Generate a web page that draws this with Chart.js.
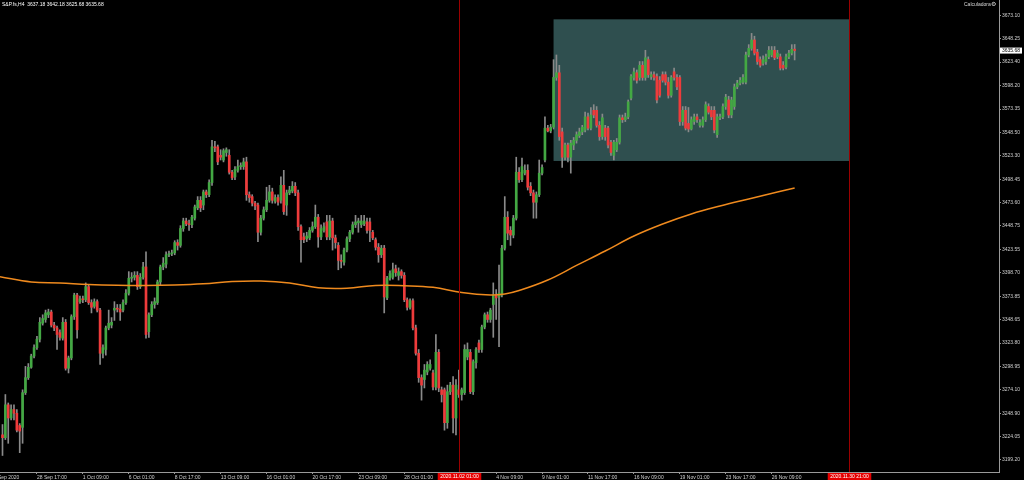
<!DOCTYPE html>
<html lang="en">
<head>
<meta charset="UTF-8" />
<title>S&amp;P.fs H4</title>
<script src="https://cdn.jsdelivr.net/npm/chart.js"></script>
<style>
  html, body { margin: 0; padding: 0; background: #000; }
  canvas { display: block; background: #000; }
</style>
</head>
<body>
<canvas id="priceChart" width="1024" height="480"></canvas>
<script>
// H4 candles, index 0 = first bar on screen
const symbolName = 'S&P.fs,H4';

const opens = [
  3226, 3223, 3258, 3244, 3253, 3249, 3236, 3234, 3271, 3287,
  3298, 3310, 3319, 3328, 3345, 3349, 3354, 3357, 3343, 3340,
  3335, 3329, 3346, 3297, 3308, 3352, 3375, 3368, 3371, 3370,
  3384, 3367, 3363, 3368, 3359, 3313, 3317, 3340, 3343, 3359,
  3361, 3360, 3359, 3367, 3377, 3393, 3394, 3396, 3384, 3394,
  3405, 3336, 3354, 3365, 3367, 3389, 3405, 3408, 3418, 3419,
  3420, 3431, 3428, 3446, 3454, 3451, 3450, 3457, 3468, 3476,
  3471, 3485, 3482, 3495, 3533, 3533, 3524, 3519, 3527, 3524,
  3506, 3501, 3508, 3512, 3512, 3517, 3482, 3480, 3473, 3471,
  3442, 3457, 3466, 3476, 3485, 3475, 3479, 3476, 3492, 3471,
  3484, 3486, 3491, 3484, 3448, 3437, 3435, 3436, 3444, 3448,
  3458, 3437, 3444, 3453, 3437, 3454, 3436, 3428, 3412, 3410,
  3423, 3435, 3442, 3450, 3452, 3450, 3451, 3453, 3453, 3442,
  3434, 3426, 3418, 3425, 3372, 3393, 3394, 3403, 3396, 3400,
  3396, 3370, 3362, 3369, 3340, 3313, 3287, 3285, 3293, 3297,
  3292, 3277, 3314, 3274, 3274, 3239, 3272, 3279, 3244, 3274,
  3269, 3271, 3309, 3314, 3272, 3303, 3324, 3317, 3341, 3354,
  3349, 3365, 3375, 3373, 3375, 3425, 3458, 3444, 3439, 3457,
  3506, 3498, 3505, 3508, 3491, 3484, 3474, 3482, 3505, 3519,
  3553, 3550, 3554, 3607, 3612, 3549, 3522, 3535, 3522, 3535,
  3540, 3545, 3549, 3551, 3565, 3553, 3572, 3572, 3556, 3544,
  3553, 3553, 3538, 3524, 3530, 3538, 3564, 3562, 3565, 3585,
  3607, 3612, 3607, 3620, 3607, 3626, 3608, 3610, 3608, 3604,
  3610, 3610, 3602, 3588, 3613, 3607, 3607, 3560, 3572, 3558,
  3552, 3560, 3565, 3556, 3556, 3562, 3576, 3572, 3572, 3546,
  3564, 3565, 3576, 3583, 3567, 3576, 3597, 3601, 3602, 3602,
  3631, 3638, 3647, 3634, 3626, 3622, 3624, 3629, 3631, 3636,
  3629, 3629, 3620, 3618, 3629, 3633, 3637.18
];

const highs = [
  3237, 3269, 3260, 3258, 3258, 3253, 3238, 3274, 3299, 3302,
  3312, 3322, 3331, 3351, 3354, 3359, 3360, 3359, 3346, 3342,
  3338, 3351, 3349, 3310, 3354, 3377, 3377, 3374, 3374, 3388,
  3386, 3370, 3371, 3370, 3361, 3322, 3342, 3359, 3351, 3368,
  3365, 3365, 3370, 3381, 3400, 3399, 3400, 3400, 3398, 3410,
  3421, 3356, 3368, 3372, 3391, 3407, 3415, 3421, 3422, 3423,
  3433, 3434, 3449, 3457, 3457, 3455, 3460, 3471, 3480, 3480,
  3487, 3487, 3498, 3540, 3539, 3535, 3530, 3531, 3532, 3530,
  3508, 3512, 3519, 3516, 3521, 3522, 3485, 3482, 3475, 3473,
  3460, 3469, 3490, 3492, 3489, 3482, 3482, 3501, 3508, 3487,
  3491, 3496, 3495, 3487, 3450, 3441, 3442, 3447, 3453, 3471,
  3461, 3450, 3452, 3460, 3460, 3457, 3439, 3431, 3418, 3425,
  3437, 3444, 3453, 3460, 3457, 3460, 3460, 3457, 3457, 3444,
  3436, 3430, 3428, 3428, 3395, 3401, 3409, 3407, 3404, 3402,
  3399, 3372, 3371, 3371, 3343, 3317, 3290, 3301, 3304, 3306,
  3295, 3333, 3317, 3277, 3276, 3279, 3282, 3288, 3285, 3295,
  3276, 3322, 3324, 3317, 3306, 3319, 3327, 3343, 3356, 3357,
  3361, 3388, 3381, 3407, 3428, 3480, 3464, 3448, 3460, 3522,
  3511, 3521, 3514, 3514, 3495, 3487, 3485, 3519, 3514, 3565,
  3556, 3557, 3626, 3631, 3620, 3553, 3537, 3537, 3540, 3543,
  3549, 3553, 3556, 3570, 3569, 3575, 3578, 3576, 3560, 3568,
  3556, 3555, 3540, 3540, 3542, 3567, 3567, 3569, 3583, 3610,
  3617, 3615, 3624, 3624, 3636, 3629, 3613, 3613, 3611, 3608,
  3613, 3613, 3607, 3609, 3617, 3610, 3609, 3576, 3576, 3575,
  3565, 3568, 3568, 3562, 3565, 3581, 3579, 3576, 3576, 3568,
  3568, 3579, 3589, 3587, 3586, 3600, 3604, 3607, 3610, 3634,
  3642, 3654, 3651, 3637, 3629, 3630, 3632, 3640, 3640, 3640,
  3636, 3632, 3624, 3632, 3636, 3642, 3642.18
];

const lows = [
  3204, 3221, 3217, 3242, 3242, 3229, 3207, 3217, 3269, 3285,
  3297, 3308, 3317, 3325, 3343, 3346, 3351, 3341, 3337, 3317,
  3327, 3327, 3295, 3292, 3306, 3349, 3329, 3366, 3367, 3368,
  3365, 3356, 3361, 3357, 3301, 3308, 3311, 3338, 3340, 3348,
  3357, 3348, 3357, 3365, 3375, 3389, 3391, 3381, 3382, 3392,
  3329, 3330, 3352, 3361, 3365, 3386, 3402, 3404, 3416, 3417,
  3418, 3423, 3426, 3443, 3449, 3444, 3447, 3455, 3466, 3464,
  3466, 3479, 3480, 3492, 3528, 3514, 3519, 3517, 3523, 3504,
  3498, 3498, 3506, 3509, 3509, 3476, 3474, 3470, 3466, 3432,
  3439, 3455, 3464, 3474, 3473, 3473, 3471, 3473, 3461, 3460,
  3482, 3484, 3481, 3444, 3410, 3431, 3432, 3434, 3442, 3446,
  3426, 3434, 3442, 3434, 3434, 3423, 3425, 3402, 3404, 3407,
  3421, 3432, 3440, 3447, 3442, 3447, 3449, 3441, 3432, 3434,
  3423, 3410, 3415, 3356, 3370, 3391, 3392, 3395, 3391, 3393,
  3368, 3359, 3360, 3338, 3311, 3282, 3263, 3276, 3290, 3295,
  3274, 3274, 3272, 3261, 3231, 3233, 3269, 3228, 3226, 3266,
  3263, 3269, 3306, 3270, 3269, 3297, 3314, 3314, 3339, 3346,
  3346, 3330, 3349, 3320, 3373, 3423, 3434, 3428, 3436, 3455,
  3495, 3496, 3503, 3487, 3481, 3457, 3457, 3480, 3503, 3517,
  3549, 3548, 3552, 3604, 3540, 3511, 3519, 3517, 3505, 3530,
  3537, 3543, 3546, 3549, 3551, 3551, 3564, 3554, 3540, 3541,
  3540, 3532, 3524, 3519, 3528, 3536, 3559, 3560, 3563, 3583,
  3604, 3601, 3604, 3604, 3604, 3607, 3605, 3604, 3580, 3586,
  3602, 3599, 3585, 3586, 3604, 3594, 3556, 3556, 3551, 3549,
  3551, 3557, 3559, 3554, 3554, 3560, 3568, 3562, 3548, 3543,
  3562, 3563, 3573, 3564, 3564, 3573, 3595, 3599, 3600, 3600,
  3629, 3636, 3631, 3621, 3618, 3620, 3621, 3627, 3629, 3626,
  3627, 3615, 3615, 3616, 3627, 3631, 3625.68
];

const closes = [
  3223, 3258, 3244, 3253, 3249, 3231, 3230, 3271, 3287, 3298,
  3310, 3319, 3328, 3346, 3350, 3356, 3357, 3343, 3340, 3333,
  3330, 3346, 3297, 3308, 3352, 3375, 3338, 3371, 3370, 3384,
  3367, 3362, 3368, 3359, 3313, 3319, 3340, 3345, 3346, 3361,
  3360, 3357, 3367, 3377, 3393, 3394, 3396, 3384, 3394, 3405,
  3333, 3354, 3365, 3368, 3389, 3405, 3409, 3418, 3419, 3420,
  3431, 3428, 3446, 3454, 3451, 3450, 3458, 3469, 3476, 3468,
  3485, 3482, 3495, 3533, 3532, 3517, 3522, 3529, 3530, 3506,
  3500, 3509, 3512, 3513, 3517, 3482, 3479, 3473, 3470, 3442,
  3457, 3466, 3476, 3485, 3476, 3479, 3474, 3492, 3464, 3484,
  3487, 3491, 3484, 3448, 3434, 3434, 3438, 3444, 3448, 3458,
  3437, 3446, 3448, 3437, 3454, 3436, 3431, 3412, 3411, 3423,
  3435, 3442, 3450, 3453, 3454, 3454, 3454, 3444, 3444, 3436,
  3426, 3418, 3425, 3373, 3393, 3398, 3402, 3399, 3400, 3396,
  3370, 3362, 3369, 3340, 3313, 3287, 3279, 3295, 3301, 3301,
  3277, 3314, 3276, 3269, 3239, 3272, 3279, 3244, 3279, 3269,
  3274, 3317, 3317, 3272, 3304, 3317, 3317, 3341, 3354, 3349,
  3359, 3375, 3372, 3377, 3425, 3458, 3441, 3439, 3457, 3506,
  3498, 3512, 3508, 3490, 3484, 3474, 3482, 3505, 3511, 3553,
  3550, 3554, 3607, 3612, 3544, 3522, 3535, 3522, 3537, 3540,
  3546, 3549, 3554, 3565, 3553, 3567, 3567, 3556, 3544, 3564,
  3544, 3535, 3527, 3538, 3538, 3564, 3562, 3565, 3581, 3608,
  3613, 3604, 3620, 3607, 3628, 3610, 3610, 3607, 3583, 3588,
  3604, 3602, 3588, 3607, 3607, 3597, 3560, 3572, 3553, 3552,
  3562, 3565, 3562, 3559, 3562, 3578, 3570, 3565, 3551, 3565,
  3565, 3576, 3586, 3567, 3583, 3597, 3601, 3604, 3607, 3631,
  3638, 3647, 3633, 3624, 3620, 3626, 3629, 3636, 3636, 3628,
  3633, 3617, 3617, 3629, 3633, 3637, 3635.68
];

// moving average, read every ~10 bars
const maIndex = [-1, 10, 20, 30, 40, 50, 60, 70, 80, 90, 100, 110, 120, 130, 140, 150,
  160, 170, 175, 180, 190, 200, 210, 220, 230, 240, 250, 260, 270, 276];
const maValues = [3394.6, 3389.0, 3387.9, 3386.3, 3385.5, 3385.3, 3385.8, 3387.1, 3389.5, 3390.0,
  3387.9, 3382.8, 3382.3, 3385.3, 3385.0, 3383.3, 3377.8, 3375.1, 3376.2, 3379.9,
  3391.1, 3406.6, 3422.0, 3438.0, 3450.8, 3461.5, 3470.0, 3477.5, 3484.9, 3489.2];

// time axis labels (bar index -> text)
const timeTickIndex = [-4, 12, 28, 44, 60, 76, 92, 108, 124, 140, 172, 188, 204, 220, 236, 252, 268];
const timeTickLabels = ['24 Sep 2020', '28 Sep 17:00', '1 Oct 09:00', '6 Oct 01:00', '8 Oct 17:00',
  '13 Oct 09:00', '16 Oct 01:00', '20 Oct 17:00', '23 Oct 09:00', '28 Oct 01:00', '4 Nov 09:00',
  '9 Nov 01:00', '11 Nov 17:00', '16 Nov 09:00', '19 Nov 01:00', '23 Nov 17:00', '26 Nov 09:00'];

const priceTicks = [3673.10, 3648.25, 3623.40, 3598.20, 3573.35, 3548.50, 3523.30, 3498.45,
  3473.60, 3448.75, 3423.55, 3398.70, 3373.85, 3348.65, 3323.80, 3298.95, 3274.10, 3248.90,
  3224.05, 3199.20];

// rectangle object and vertical lines
const boxFrom = 192, boxTo = 295, boxHigh = 3669, boxLow = 3518;
const vlineIndex = [159, 295];
const vlineLabels = ['2020.11.02 01:00', '2020.11.30 21:00'];

const upColor = '#43a843';
const downColor = '#ee3b3b';
const tinyFont = '5px "Liberation Sans", Arial, sans-serif';

const last = closes.length - 1;
const wickData = closes.map((c, i) => ({ x: i, y: [lows[i], highs[i]] }));
const bodyData = closes.map((c, i) => ({ x: i, y: [opens[i], closes[i]] }));
const maData = maIndex.map((x, k) => ({ x: x, y: maValues[k] }));

const overlay = {
  id: 'overlay',
  beforeDatasetsDraw(chart) {
    const { ctx, scales: { x, y } } = chart;
    ctx.save();
    ctx.fillStyle = '#2f4f4f';
    const x0 = x.getPixelForValue(boxFrom), x1 = x.getPixelForValue(boxTo);
    const y0 = y.getPixelForValue(boxHigh), y1 = y.getPixelForValue(boxLow);
    ctx.fillRect(x0, y0, x1 - x0, y1 - y0);
    ctx.restore();
  },
  afterDatasetsDraw(chart) {
    const { ctx, chartArea, scales: { x } } = chart;
    ctx.save();
    ctx.strokeStyle = '#9a0000';
    ctx.lineWidth = 1;
    vlineIndex.forEach(v => {
      const px = Math.round(x.getPixelForValue(v)) + 0.5;
      ctx.beginPath();
      ctx.moveTo(px, chartArea.top);
      ctx.lineTo(px, chartArea.bottom);
      ctx.stroke();
    });
    ctx.restore();
  },
  afterDraw(chart) {
    const { ctx, chartArea, scales: { x, y } } = chart;
    ctx.save();
    ctx.font = tinyFont;
    ctx.textBaseline = 'middle';

    // red time labels of the vertical lines
    vlineIndex.forEach((v, k) => {
      const px = Math.round(x.getPixelForValue(v)) + 0.5;
      const w = ctx.measureText(vlineLabels[k]).width + 5;
      ctx.fillStyle = '#e60000';
      ctx.fillRect(px - w / 2, chartArea.bottom + 1, w, 7);
      ctx.fillStyle = '#ffffff';
      ctx.textAlign = 'center';
      ctx.fillText(vlineLabels[k], px, chartArea.bottom + 4.8);
    });

    // last price tag
    const py = y.getPixelForValue(closes[last]);
    ctx.fillStyle = '#ffffff';
    ctx.fillRect(chartArea.right + 1, py - 3, 22, 6);
    ctx.fillStyle = '#000000';
    ctx.textAlign = 'left';
    ctx.fillText(closes[last].toFixed(2), chartArea.right + 3, py + 0.3);

    // header line
    ctx.fillStyle = '#ffffff';
    ctx.textBaseline = 'top';
    const ohlc = [opens[last], highs[last], lows[last], closes[last]].map(v => v.toFixed(2)).join(' ');
    ctx.fillText(symbolName + '  ' + ohlc, 2, 2);

    ctx.fillStyle = '#d8d8d8';
    ctx.fillText('Calculadora', 964, 2);
    ctx.font = '6px "DejaVu Sans", sans-serif';
    ctx.fillText('\u2699', 991, 1.5);
    ctx.restore();
  }
};

new Chart(document.getElementById('priceChart'), {
  type: 'bar',
  data: {
    datasets: [
      {
        type: 'line',
        data: maData,
        borderColor: '#ef8a1e',
        borderWidth: 1.5,
        pointRadius: 0,
        tension: 0.4,
        fill: false
      },
      {
        data: bodyData,
        backgroundColor: ctx => closes[ctx.dataIndex] >= opens[ctx.dataIndex] ? upColor : downColor,
        barThickness: 2,
        minBarLength: 1,
        grouped: false
      },
      {
        data: wickData,
        backgroundColor: '#8a8a8a',
        barThickness: 1,
        grouped: false
      }
    ]
  },
  options: {
    responsive: false,
    animation: false,
    devicePixelRatio: 1,
    layout: { padding: 0, autoPadding: false },
    plugins: {
      legend: { display: false },
      tooltip: { enabled: false }
    },
    scales: {
      x: {
        type: 'linear',
        min: -0.87,
        max: 347.2,
        offset: false,
        border: { display: true, color: '#9a9a9a', width: 1 },
        grid: { drawOnChartArea: false, drawTicks: true, tickLength: 2, tickColor: '#9a9a9a', offset: false },
        ticks: {
          autoSkip: false,
          maxRotation: 0,
          minRotation: 0,
          align: 'start',
          padding: 1,
          color: '#d0d0d0',
          font: { family: 'Liberation Sans', size: 5 },
          callback: (v, i) => timeTickLabels[i]
        },
        afterBuildTicks: s => { s.ticks = timeTickIndex.map(v => ({ value: v })); },
        afterFit: s => { s.height = 8; s.paddingLeft = 0; s.paddingRight = 0; }
      },
      y: {
        position: 'right',
        min: 3186.4,
        max: 3689.6,
        bounds: 'data',
        border: { display: true, color: '#9a9a9a', width: 1 },
        grid: { drawOnChartArea: false, drawTicks: true, tickLength: 2, tickColor: '#9a9a9a' },
        ticks: {
          padding: 1,
          color: '#d0d0d0',
          font: { family: 'Liberation Sans', size: 5 },
          callback: v => Number(v).toFixed(2)
        },
        afterBuildTicks: s => { s.ticks = priceTicks.map(v => ({ value: v })); },
        afterFit: s => { s.width = 25; s.paddingTop = 0; s.paddingBottom = 0; }
      }
    }
  },
  plugins: [overlay]
});
</script>
</body>
</html>
